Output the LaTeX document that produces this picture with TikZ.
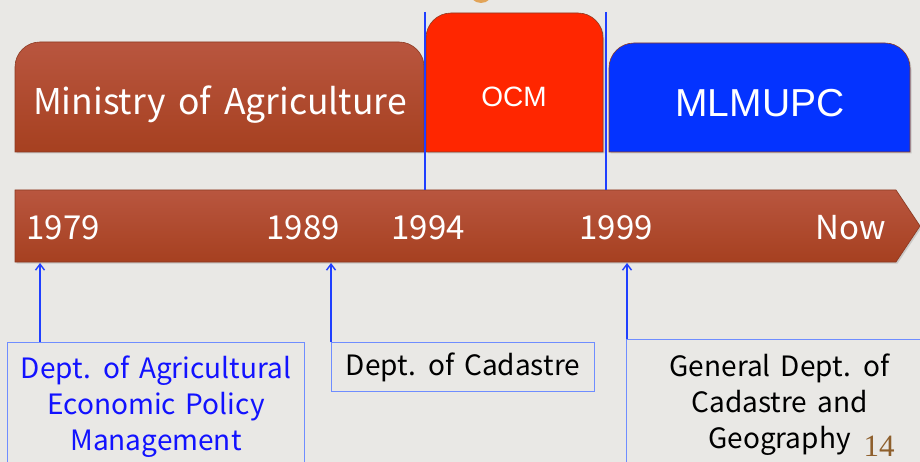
\documentclass[tikz,border=0pt]{standalone}
\usepackage{fontspec}
\setmainfont{Noto Sans CJK JP}[WordSpace=1.6]
\newfontfamily\ocmfont{Liberation Sans}
\newfontfamily\pagefont{Liberation Serif}
\usetikzlibrary{positioning,
        shadows,
        arrows.meta}

\definecolor{paper}{HTML}{E9E8E5}
\definecolor{rusttop}{HTML}{B9563F}
\definecolor{rustbot}{HTML}{A64020}
\definecolor{rustedge}{HTML}{8C3A22}
\definecolor{ocmred}{HTML}{FF2600}
\definecolor{mlblue}{HTML}{0433FF}
\definecolor{linkblue}{HTML}{1F3FFF}
\definecolor{boxblue}{HTML}{6F8DFF}
\definecolor{textblue}{HTML}{1212FF}
\definecolor{pagebrown}{HTML}{8E5F2C}
\definecolor{dotorange}{HTML}{E2A458}

\tikzset{
    tab/.style={draw=rustedge, line width=0.6pt,
        drop shadow={opacity=0.3, shadow xshift=1.5pt, shadow yshift=-1.5pt}},
    tablabel/.style={text=white, anchor=base, inner sep=0pt},
    year/.style={text=white, anchor=base, inner sep=0pt,
        font=\fontsize{33}{36}\selectfont},
    period/.style={draw=linkblue, line width=1.2pt},
    link/.style={draw=linkblue, line width=1.4pt,
        -{Straight Barb[length=6pt,width=9pt]}},
    deptbox/.style={draw=boxblue, line width=0.9pt, align=center,
        anchor=north west, inner sep=0pt,
        font=\fontsize{28}{36}\selectfont}
}

\begin{document}
\begin{tikzpicture}[x=1pt,y=-1pt]
    \useasboundingbox (0,0) rectangle (920,462);
    \fill[paper] (0,0) rectangle (920,462);
    \begin{scope}
        \clip (0,0) rectangle (920,462);
        \fill[dotorange] (481,-9) circle (12);
    \end{scope}

    % ministries
    \path[tab, top color=rusttop, bottom color=rustbot] (15,152) [rounded corners=25] -- (15,42) -- (424,42) [sharp corners] -- (424,152) -- cycle;
    \path[tab, fill=ocmred] (426,152) [rounded corners=25] -- (426,13) -- (603,13) [sharp corners] -- (603,152) -- cycle;
    \path[tab, fill=mlblue] (609,152) [rounded corners=25] -- (609,43) -- (910,43) [sharp corners] -- (910,152) -- cycle;

    \node [tablabel, font=\fontsize{35.5}{40}\selectfont] (ministry) at (220,115) {Ministry of Agriculture};
    \node [tablabel, font=\ocmfont\fontsize{28}{30}\selectfont] (ocm) at (514,107) {OCM};
    \node [tablabel, font=\ocmfont\fontsize{39}{42}\selectfont] (mlmupc) at (760,117) {MLMUPC};

    % timeline
    \path[tab, top color=rusttop, bottom color=rustbot] (15,190) -- (896,190) -- (920,226) -- (896,262) -- (15,262) -- cycle;

    \node [year] (y1979) at (63,240) {1979};
    \node [year] (y1989) at (303,240) {1989};
    \node [year] (y1994) at (428,240) {1994};
    \node [year] (y1999) at (616,240) {1999};
    \node [year] (ynow) at (851,240) {Now};

    \coordinate (ocmstarttop) at (425,12);
    \coordinate (ocmstart) at (425,190);
    \coordinate (ocmendtop) at (606,12);
    \coordinate (ocmend) at (606,190);
    \draw[period] (ocmstarttop) -- (ocmstart);
    \draw[period] (ocmendtop) -- (ocmend);

    % departments
    \coordinate (t1979) at (40,263);
    \coordinate (t1989) at (331,263);
    \coordinate (t1999) at (627,263);

    \node [deptbox, text=textblue, minimum width=297, minimum height=128] (dept1) at (7,342) {Dept. of Agricultural\\Economic Policy\\Management};
    \node [deptbox, minimum width=263, minimum height=49] (dept2) at (331,342) {Dept. of Cadastre};
    \node [deptbox, minimum width=306, minimum height=131] (dept3) at (626,339) {General Dept. of\\Cadastre and\\Geography};

    \draw[link] (dept1.north -| t1979) -- (t1979);
    \draw[link] (dept2.north -| t1989) -- (t1989);
    \draw[link] (dept3.north -| t1999) -- (t1999);

    \node [anchor=base, inner sep=0pt, text=pagebrown, font=\pagefont\fontsize{31}{34}\selectfont] (pagenum) at (879,456) {14};
\end{tikzpicture}
\end{document}
